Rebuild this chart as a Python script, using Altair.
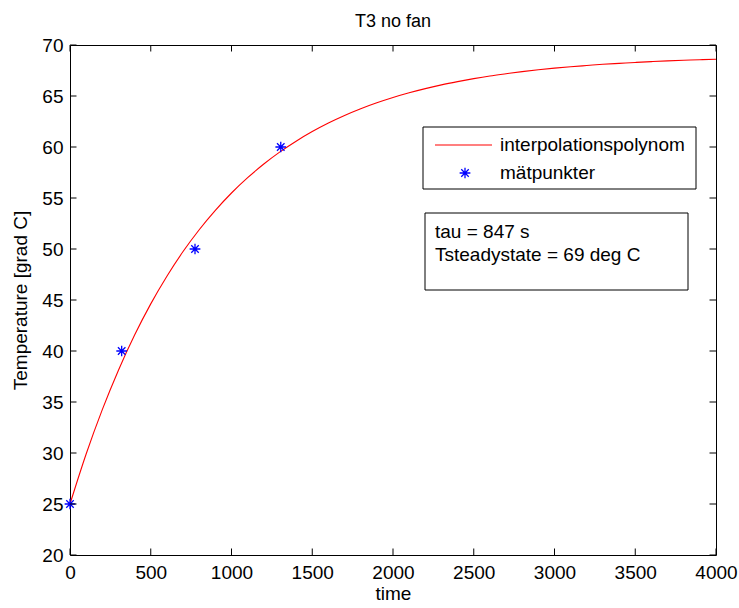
import altair as alt
import pandas as pd

# ---- data ----
curve_time = [0, 100, 200, 300, 400, 500, 600, 700, 800, 900, 1000, 1100, 1200,
              1300, 1400, 1500, 1600, 1700, 1800, 1900, 2000, 2100, 2200, 2300,
              2400, 2500, 2600, 2700, 2800, 2900, 3000, 3100, 3200, 3300, 3400,
              3500, 3600, 3700, 3800, 3900, 4000]
curve_temp = [25.00, 29.90, 34.25, 38.12, 41.56, 44.62, 47.33, 49.75, 51.89, 53.79,
              55.49, 56.99, 58.33, 59.52, 60.57, 61.51, 62.35, 63.09, 63.75, 64.33,
              64.85, 65.31, 65.72, 66.09, 66.41, 66.70, 66.96, 67.18, 67.39, 67.57,
              67.73, 67.87, 67.99, 68.11, 68.20, 68.29, 68.37, 68.44, 68.50, 68.56,
              68.61]
meas_time = [0, 320, 774, 1305]
meas_temp = [25, 40, 50, 60]
x_ticks = [0, 500, 1000, 1500, 2000, 2500, 3000, 3500, 4000]
y_ticks = [20, 25, 30, 35, 40, 45, 50, 55, 60, 65, 70]
legend_labels = ["interpolationspolynom", "mätpunkter"]
info_lines = ["tau = 847 s", "Tsteadystate = 69 deg C"]
title_text = "T3 no fan"
x_title = "time"
y_title = "Temperature [grad C]"

W, H = 646, 510
FONT = "Liberation Sans"
FS = 19
TICK = 6.5
ASTERISK = "M-1,0L1,0M0,-1L0,1M-0.7,-0.7L0.7,0.7M-0.7,0.7L0.7,-0.7"

xs = alt.Scale(domain=[0, 4000], nice=False, zero=False)
ys = alt.Scale(domain=[20, 70], nice=False, zero=False)

curve_df = pd.DataFrame({"t": curve_time, "T": curve_temp})
meas_df = pd.DataFrame({"t": meas_time, "T": meas_temp})
xt_df = pd.DataFrame({"t": x_ticks})
yt_df = pd.DataFrame({"T": y_ticks})
one = pd.DataFrame({"a": [0]})

axis_common = dict(ticks=False, tickSize=0, domain=False, grid=False, format="d",
                   labelFontSize=FS, titleFontSize=FS, labelFont=FONT, titleFont=FONT,
                   titleFontWeight="normal", labelColor="black", titleColor="black",
                   labelFlush=False)

curve = alt.Chart(curve_df).mark_line(color="#ff0000", strokeWidth=1.1, interpolate="monotone").encode(
    x=alt.X("t:Q", scale=xs, axis=alt.Axis(values=x_ticks, title=x_title, orient="bottom",
                                          labelPadding=8, titlePadding=2, **axis_common)),
    y=alt.Y("T:Q", scale=ys, axis=alt.Axis(values=y_ticks, title=y_title, orient="left",
                                          labelPadding=7, titlePadding=11, **axis_common)),
)

points = alt.Chart(meas_df).mark_point(shape=ASTERISK, filled=False, stroke="#0000ff",
                                       strokeWidth=1.3, size=115, opacity=1).encode(
    x=alt.X("t:Q", scale=xs),
    y=alt.Y("T:Q", scale=ys),
)

tick_style = dict(color="black", strokeWidth=1)
bx = alt.Chart(xt_df).mark_rule(**tick_style).encode(
    x=alt.X("t:Q", scale=xs), y=alt.value(H), y2=alt.value(H - TICK))
tx = alt.Chart(xt_df).mark_rule(**tick_style).encode(
    x=alt.X("t:Q", scale=xs), y=alt.value(0), y2=alt.value(TICK))
ly = alt.Chart(yt_df).mark_rule(**tick_style).encode(
    y=alt.Y("T:Q", scale=ys), x=alt.value(0), x2=alt.value(TICK))
ry = alt.Chart(yt_df).mark_rule(**tick_style).encode(
    y=alt.Y("T:Q", scale=ys), x=alt.value(W), x2=alt.value(W - TICK))

# legend box (MATLAB style)
lg_box = alt.Chart(one).mark_rect(fill="white", stroke="black", strokeWidth=1).encode(
    x=alt.value(353), x2=alt.value(626), y=alt.value(82), y2=alt.value(144))
lg_line = alt.Chart(one).mark_rule(color="#ff0000", strokeWidth=1.1).encode(
    x=alt.value(365), x2=alt.value(422), y=alt.value(100))
lg_star = alt.Chart(one).mark_point(shape=ASTERISK, filled=False, stroke="#0000ff",
                                    strokeWidth=1.3, size=115, opacity=1).encode(
    x=alt.value(395), y=alt.value(128))

text_style = dict(align="left", baseline="middle", font=FONT, fontSize=FS, color="black")
lg_text1 = alt.Chart(pd.DataFrame({"label": [legend_labels[0]]})).mark_text(**text_style).encode(
    x=alt.value(430), y=alt.value(100), text="label:N")
lg_text2 = alt.Chart(pd.DataFrame({"label": [legend_labels[1]]})).mark_text(**text_style).encode(
    x=alt.value(430), y=alt.value(128), text="label:N")

info_box = alt.Chart(one).mark_rect(fill="white", stroke="black", strokeWidth=1).encode(
    x=alt.value(355), x2=alt.value(618), y=alt.value(168), y2=alt.value(245))
info_text1 = alt.Chart(pd.DataFrame({"label": [info_lines[0]]})).mark_text(**text_style).encode(
    x=alt.value(365), y=alt.value(187), text="label:N")
info_text2 = alt.Chart(pd.DataFrame({"label": [info_lines[1]]})).mark_text(**text_style).encode(
    x=alt.value(365), y=alt.value(210), text="label:N")

chart = alt.layer(
    curve, points, bx, tx, ly, ry, lg_box, lg_line, lg_star, lg_text1, lg_text2,
    info_box, info_text1, info_text2
).properties(
    width=W, height=H,
    title=alt.TitleParams(title_text, font=FONT, fontSize=18, fontWeight="normal", color="black",
                          anchor="middle", baseline="alphabetic", offset=-9),
    autosize=alt.AutoSizeParams(type="none"),
    padding={"left": 70, "top": 45, "right": 23, "bottom": 53},
    background="white",
).configure_view(stroke="black", strokeWidth=1)

chart.save("out.html", embed_options={"renderer": "svg", "actions": False})
